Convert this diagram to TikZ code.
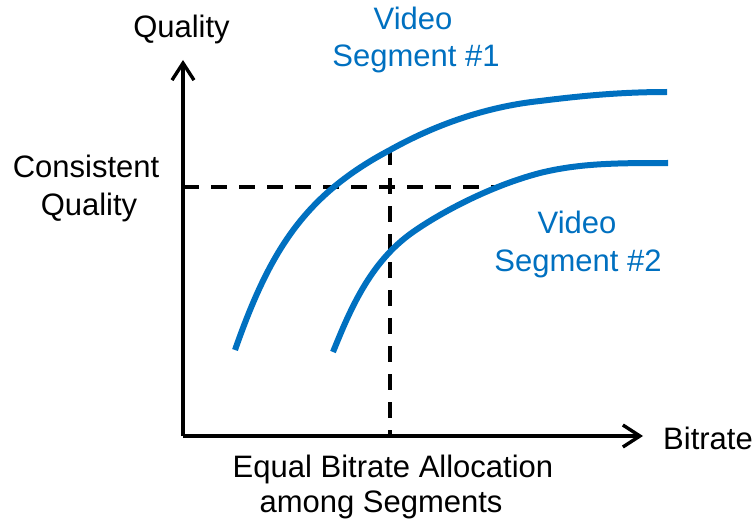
\documentclass[tikz,border=0pt]{standalone}
\usepackage{fontspec}
\setmainfont{Liberation Sans}
\usetikzlibrary{arrows.meta}
\definecolor{segblue}{HTML}{0070C0}
\tikzset{
  axisline/.style={line width=3.4pt, -{Straight Barb[length=17pt,width=22pt,line width=3.4pt]}},
  guide/.style={line width=3.4pt, dash pattern=on 15.5pt off 12.5pt},
  curveline/.style={line width=6pt, segblue},
  lbl/.style={inner sep=0pt, anchor=base, font=\fontsize{31}{37}\selectfont},
  bluelbl/.style={lbl, text=segblue}
}
\begin{document}
\begin{tikzpicture}[x=1pt,y=-1pt]
\useasboundingbox (0,0) rectangle (755,524);
\coordinate (O) at (183,436);
\coordinate (ytop) at (183,60);
\coordinate (xend) at (643,436);
\coordinate (hq) at (183,187);
\coordinate (hqend) at (500,187);
\coordinate (vtop) at (390,150);
\coordinate (vbot) at (390,436);
% axes
\draw[axisline] (O) -- (ytop);
\draw[axisline] (O) -- (xend);
% dashed guides
\draw[guide] (hq) -- (hqend);
\draw[guide] (vtop) -- (vbot);
% curves
\draw[curveline] (235,350) .. controls (270,250) and (305,195) .. (390,150)
  .. controls (440,122) and (492,106) .. (540,101)
  .. controls (580,96) and (620,92) .. (667,92);
\draw[curveline] (333,352) .. controls (350,310) and (370,262) .. (413,232)
  .. controls (440,213) and (490,186) .. (540,173)
  .. controls (580,163) and (620,163) .. (668,163);
% labels
\node[lbl] (qual) at (181.5,38) {Quality};
\node[lbl] (cons1) at (86,178) {Consistent};
\node[lbl] (cons2) at (89,215) {Quality};
\node[lbl, anchor=base west] (bit) at (663,449) {Bitrate};
\node[lbl] (eq1) at (393,477) {Equal Bitrate Allocation};
\node[lbl] (eq2) at (381,512) {among Segments};
\node[bluelbl] (v1a) at (413,30) {Video};
\node[bluelbl] (v1b) at (416,67) {Segment \#1};
\node[bluelbl] (v2a) at (577,233) {Video};
\node[bluelbl] (v2b) at (578,271) {Segment \#2};
\end{tikzpicture}
\end{document}
